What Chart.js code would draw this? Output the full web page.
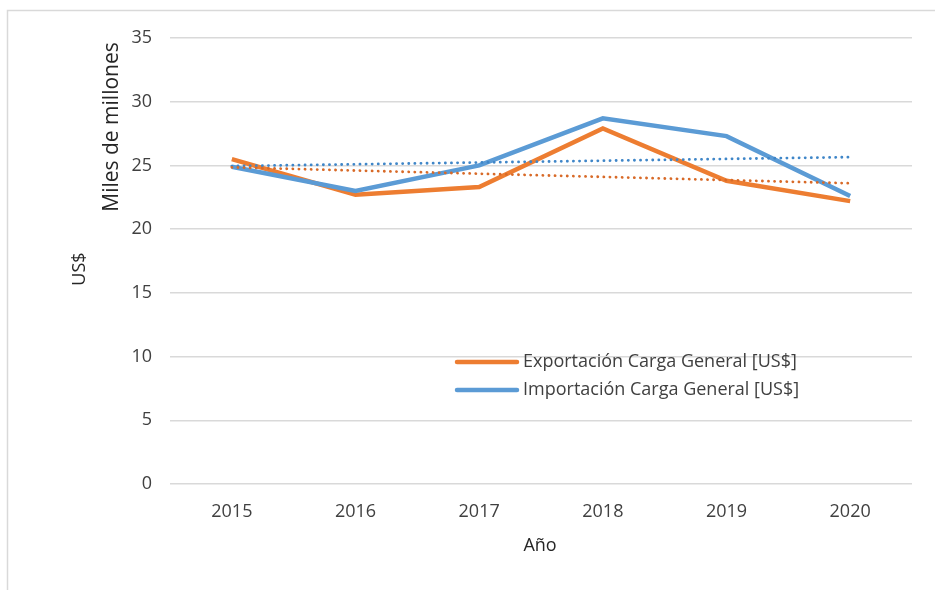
<!DOCTYPE html>
<html>
<head>
<meta charset="utf-8">
<script src="https://cdn.jsdelivr.net/npm/chart.js@4.4.1/dist/chart.umd.min.js"></script>
<style>
  html, body { margin: 0; padding: 0; background: #fff; }
  #wrap { width: 935px; height: 590px; position: relative; }
</style>
</head>
<body>
<div id="wrap"><canvas id="chartLine" width="935" height="590"></canvas></div>
<script>
// datos
const years = ["2015", "2016", "2017", "2018", "2019", "2020"];
const exportacion = [25.5, 22.7, 23.3, 27.9, 23.8, 22.2];
const importacion = [24.9, 23.0, 25.0, 28.7, 27.3, 22.6];
// lineas de tendencia (extremos leidos)
const tendExport = [24.85, null, null, null, null, 23.6];
const tendImport = [24.95, null, null, null, null, 25.65];
const yTicks = [0, 5, 10, 15, 20, 25, 30, 35];

const FONT = "'Open Sans', sans-serif";

const extras = {
  id: 'extras',
  beforeDraw(chart) {
    const ctx = chart.ctx;
    ctx.save();
    ctx.strokeStyle = '#d9d9d9';
    ctx.lineWidth = 1.5;
    ctx.strokeRect(7.5, 10.5, 1000, 1000);
    ctx.restore();
  },
  afterDraw(chart) {
    const ctx = chart.ctx;
    ctx.save();
    ctx.fillStyle = '#262626';
    ctx.font = '18px ' + FONT;
    ctx.textAlign = 'center';
    ctx.textBaseline = 'middle';
    // titulo eje x
    ctx.fillText('Año', 540, 546);
    // titulos eje y
    ctx.translate(80, 269);
    ctx.rotate(-Math.PI / 2);
    ctx.fillText('US$', 0, 0);
    ctx.restore();
    ctx.save();
    ctx.fillStyle = '#262626';
    ctx.font = '21px ' + FONT;
    ctx.textAlign = 'center';
    ctx.textBaseline = 'middle';
    ctx.translate(112, 127);
    ctx.rotate(-Math.PI / 2);
    ctx.fillText('Miles de millones', 0, 0);
    ctx.restore();

    // leyenda
    const items = chart.data.datasets.filter(d => !d.trend);
    ctx.save();
    ctx.font = '18px ' + FONT;
    ctx.textBaseline = 'middle';
    ctx.fillStyle = '#404040';
    items.forEach((d, i) => {
      const y = 362 + i * 28;
      ctx.strokeStyle = d.borderColor;
      ctx.lineWidth = 4.5;
      ctx.lineCap = 'round';
      ctx.beginPath();
      ctx.moveTo(457, y);
      ctx.lineTo(517, y);
      ctx.stroke();
      ctx.fillText(d.label, 523, y);
    });
    ctx.restore();
  }
};

new Chart(document.getElementById('chartLine'), {
  type: 'line',
  data: {
    labels: years,
    datasets: [
      {
        label: 'Exportación Carga General [US$]',
        data: exportacion,
        borderColor: '#ED7D31',
        borderWidth: 4.5,
        pointRadius: 0,
        tension: 0,
        order: 2
      },
      {
        label: 'Importación Carga General [US$]',
        data: importacion,
        borderColor: '#5B9BD5',
        borderWidth: 4.5,
        pointRadius: 0,
        tension: 0,
        order: 1
      },
      {
        label: 'Tendencia exportación',
        trend: true,
        data: tendExport,
        spanGaps: true,
        borderColor: '#D86A28',
        borderWidth: 2.8,
        borderDash: [0.1, 6],
        borderCapStyle: 'round',
        pointRadius: 0,
        order: 0
      },
      {
        label: 'Tendencia importación',
        trend: true,
        data: tendImport,
        spanGaps: true,
        borderColor: '#3F86C8',
        borderWidth: 2.8,
        borderDash: [0.1, 6],
        borderCapStyle: 'round',
        pointRadius: 0,
        order: 0
      }
    ]
  },
  options: {
    responsive: false,
    animation: false,
    layout: { padding: { top: 38, right: 23, left: 0, bottom: 0 } },
    plugins: {
      legend: { display: false },
      tooltip: { enabled: false }
    },
    scales: {
      x: {
        offset: true,
        grid: { display: false, drawTicks: false },
        border: { display: false },
        ticks: { color: '#404040', font: { family: FONT, size: 18 }, padding: 17 },
        afterFit(s) { s.height = 106; }
      },
      y: {
        min: 0,
        max: 35,
        afterBuildTicks(s) { s.ticks = yTicks.map(v => ({ value: v })); },
        grid: { color: '#d9d9d9', lineWidth: 1.5, drawTicks: false },
        border: { display: false },
        ticks: { color: '#404040', font: { family: FONT, size: 18 }, padding: 18 },
        afterFit(s) { s.width = 170; }
      }
    }
  },
  plugins: [extras]
});
</script>
</body>
</html>
